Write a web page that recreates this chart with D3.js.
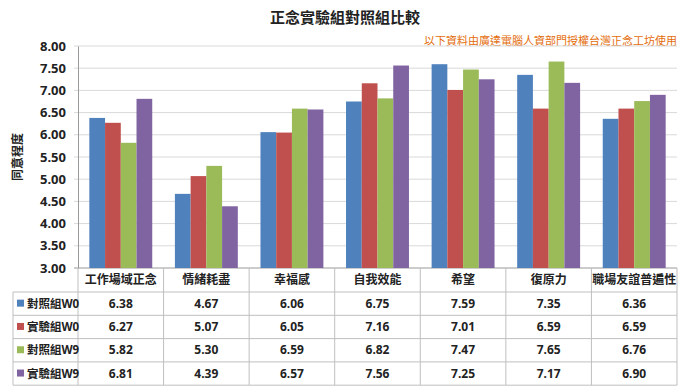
<!DOCTYPE html>
<html>
<head>
<meta charset="utf-8">
<script src="https://cdn.jsdelivr.net/npm/d3@7"></script>
<style>
  body { margin: 0; background: #fff; }
  text { font-family: "Noto Sans", "Noto Sans CJK TC", sans-serif; }
</style>
</head>
<body>
<div class="canvas"></div>
<script>
// data
const categories = ['工作場域正念', '情緒耗盡', '幸福感', '自我效能', '希望', '復原力', '職場友誼普遍性'];
const seriesNames = ['對照組W0', '實驗組W0', '對照組W9', '實驗組W9'];
const ctrlW0 = [6.38, 4.67, 6.06, 6.75, 7.59, 7.35, 6.36];
const expW0  = [6.27, 5.07, 6.05, 7.16, 7.01, 6.59, 6.59];
const ctrlW9 = [5.82, 5.30, 6.59, 6.82, 7.47, 7.65, 6.76];
const expW9  = [6.81, 4.39, 6.57, 7.56, 7.25, 7.17, 6.90];
const yTicks = [3, 3.5, 4, 4.5, 5, 5.5, 6, 6.5, 7, 7.5, 8];
const colors = ['#4F81BD', '#C0504D', '#9BBB59', '#8064A2'];

const seriesValues = [ctrlW0, expW0, ctrlW9, expW9];

const width = 689, height = 389;
const svg = d3.select('.canvas')
    .append('svg')
        .attr('width', width)
        .attr('height', height);

const plot = {left: 78, right: 677, top: 46, bottom: 268};
const tableLeft = 13;
const headerH = 24;
const rowH = 23.3;
const gridColor = '#bfbfbf';

// title
svg.append('text')
    .attr('x', 345).attr('y', 23)
    .attr('text-anchor', 'middle')
    .attr('font-size', 15).attr('font-weight', 'bold')
    .attr('fill', '#222')
    .text('正念實驗組對照組比較');

svg.append('text')
    .attr('x', plot.right).attr('y', 45)
    .attr('text-anchor', 'end')
    .attr('font-size', 11)
    .attr('fill', '#E46C0A')
    .text('以下資料由廣達電腦人資部門授權台灣正念工坊使用');

// scales
const x = d3.scaleBand()
    .domain(categories)
    .range([plot.left, plot.right]);

const xInner = d3.scaleBand()
    .domain(seriesNames)
    .range([0, x.bandwidth()])
    .paddingOuter(0.72)
    .paddingInner(0);

const y = d3.scaleLinear()
    .domain([3, 8])
    .range([plot.bottom, plot.top]);

// gridlines
svg.append('g')
    .selectAll('line')
    .data(yTicks)
    .enter().append('line')
        .attr('x1', plot.left - 4).attr('x2', plot.right)
        .attr('y1', d => y(d)).attr('y2', d => y(d))
        .attr('stroke', d => d === 3 ? '#999' : '#d9d9d9');

// y axis labels
const yAxis = d3.axisLeft(y)
    .tickValues(yTicks)
    .tickFormat(d3.format('.2f'))
    .tickSize(0)
    .tickPadding(12);

const yAxisGroup = svg.append('g')
    .attr('transform', `translate(${plot.left}, 0)`)
    .call(yAxis);
yAxisGroup.select('.domain').attr('stroke', '#999');
yAxisGroup.selectAll('text')
    .attr('font-size', 13)
    .attr('font-weight', 'bold')
    .attr('fill', '#222');

svg.append('text')
    .attr('transform', `translate(22, ${(plot.top + plot.bottom) / 2}) rotate(-90)`)
    .attr('text-anchor', 'middle')
    .attr('font-size', 12).attr('font-weight', 'bold')
    .attr('fill', '#222')
    .text('同意程度');

// bars
const groups = svg.append('g')
    .selectAll('g')
    .data(seriesNames)
    .enter().append('g')
        .attr('fill', (d, i) => colors[i]);

groups.selectAll('rect')
    .data((s, i) => seriesValues[i].map((v, j) => ({cat: categories[j], s, v})))
    .enter().append('rect')
        .attr('x', d => x(d.cat) + xInner(d.s))
        .attr('width', xInner.bandwidth())
        .attr('y', d => y(d.v))
        .attr('height', d => y(3) - y(d.v));

// data table
const table = svg.append('g');
const tableBottom = plot.bottom + headerH + rowH * seriesNames.length;

// vertical lines
const vxs = categories.map(c => x(c)).concat([plot.right]);
table.selectAll('.vline')
    .data(vxs)
    .enter().append('line')
        .attr('x1', d => d).attr('x2', d => d)
        .attr('y1', plot.bottom).attr('y2', tableBottom)
        .attr('stroke', gridColor);

table.append('line')
    .attr('x1', tableLeft).attr('x2', tableLeft)
    .attr('y1', plot.bottom + headerH).attr('y2', tableBottom)
    .attr('stroke', gridColor);

// horizontal lines
const hys = d3.range(seriesNames.length + 1).map(i => plot.bottom + headerH + rowH * i);
table.selectAll('.hline')
    .data(hys)
    .enter().append('line')
        .attr('x1', tableLeft).attr('x2', plot.right)
        .attr('y1', d => d).attr('y2', d => d)
        .attr('stroke', gridColor);

// category header
table.selectAll('.cat')
    .data(categories)
    .enter().append('text')
        .attr('x', d => x(d) + x.bandwidth() / 2)
        .attr('y', plot.bottom + headerH / 2 + 4)
        .attr('text-anchor', 'middle')
        .attr('font-size', 12).attr('font-weight', 'bold')
        .attr('fill', '#222')
        .text(d => d);

// row labels with legend keys
seriesNames.forEach((name, i) => {
    const cy = plot.bottom + headerH + rowH * i + rowH / 2;
    table.append('rect')
        .attr('x', tableLeft + 4).attr('y', cy - 4)
        .attr('width', 7).attr('height', 7)
        .attr('fill', colors[i]);
    table.append('text')
        .attr('x', tableLeft + 14).attr('y', cy + 4)
        .attr('font-size', 11.5).attr('font-weight', 'bold')
        .attr('fill', '#222')
        .text(name);
    table.selectAll('.val' + i)
        .data(seriesValues[i])
        .enter().append('text')
            .attr('x', (d, j) => x(categories[j]) + x.bandwidth() / 2)
            .attr('y', cy + 4)
            .attr('text-anchor', 'middle')
            .attr('font-size', 12).attr('font-weight', 'bold')
            .attr('fill', '#222')
            .text(d => d.toFixed(2));
});
</script>
</body>
</html>
